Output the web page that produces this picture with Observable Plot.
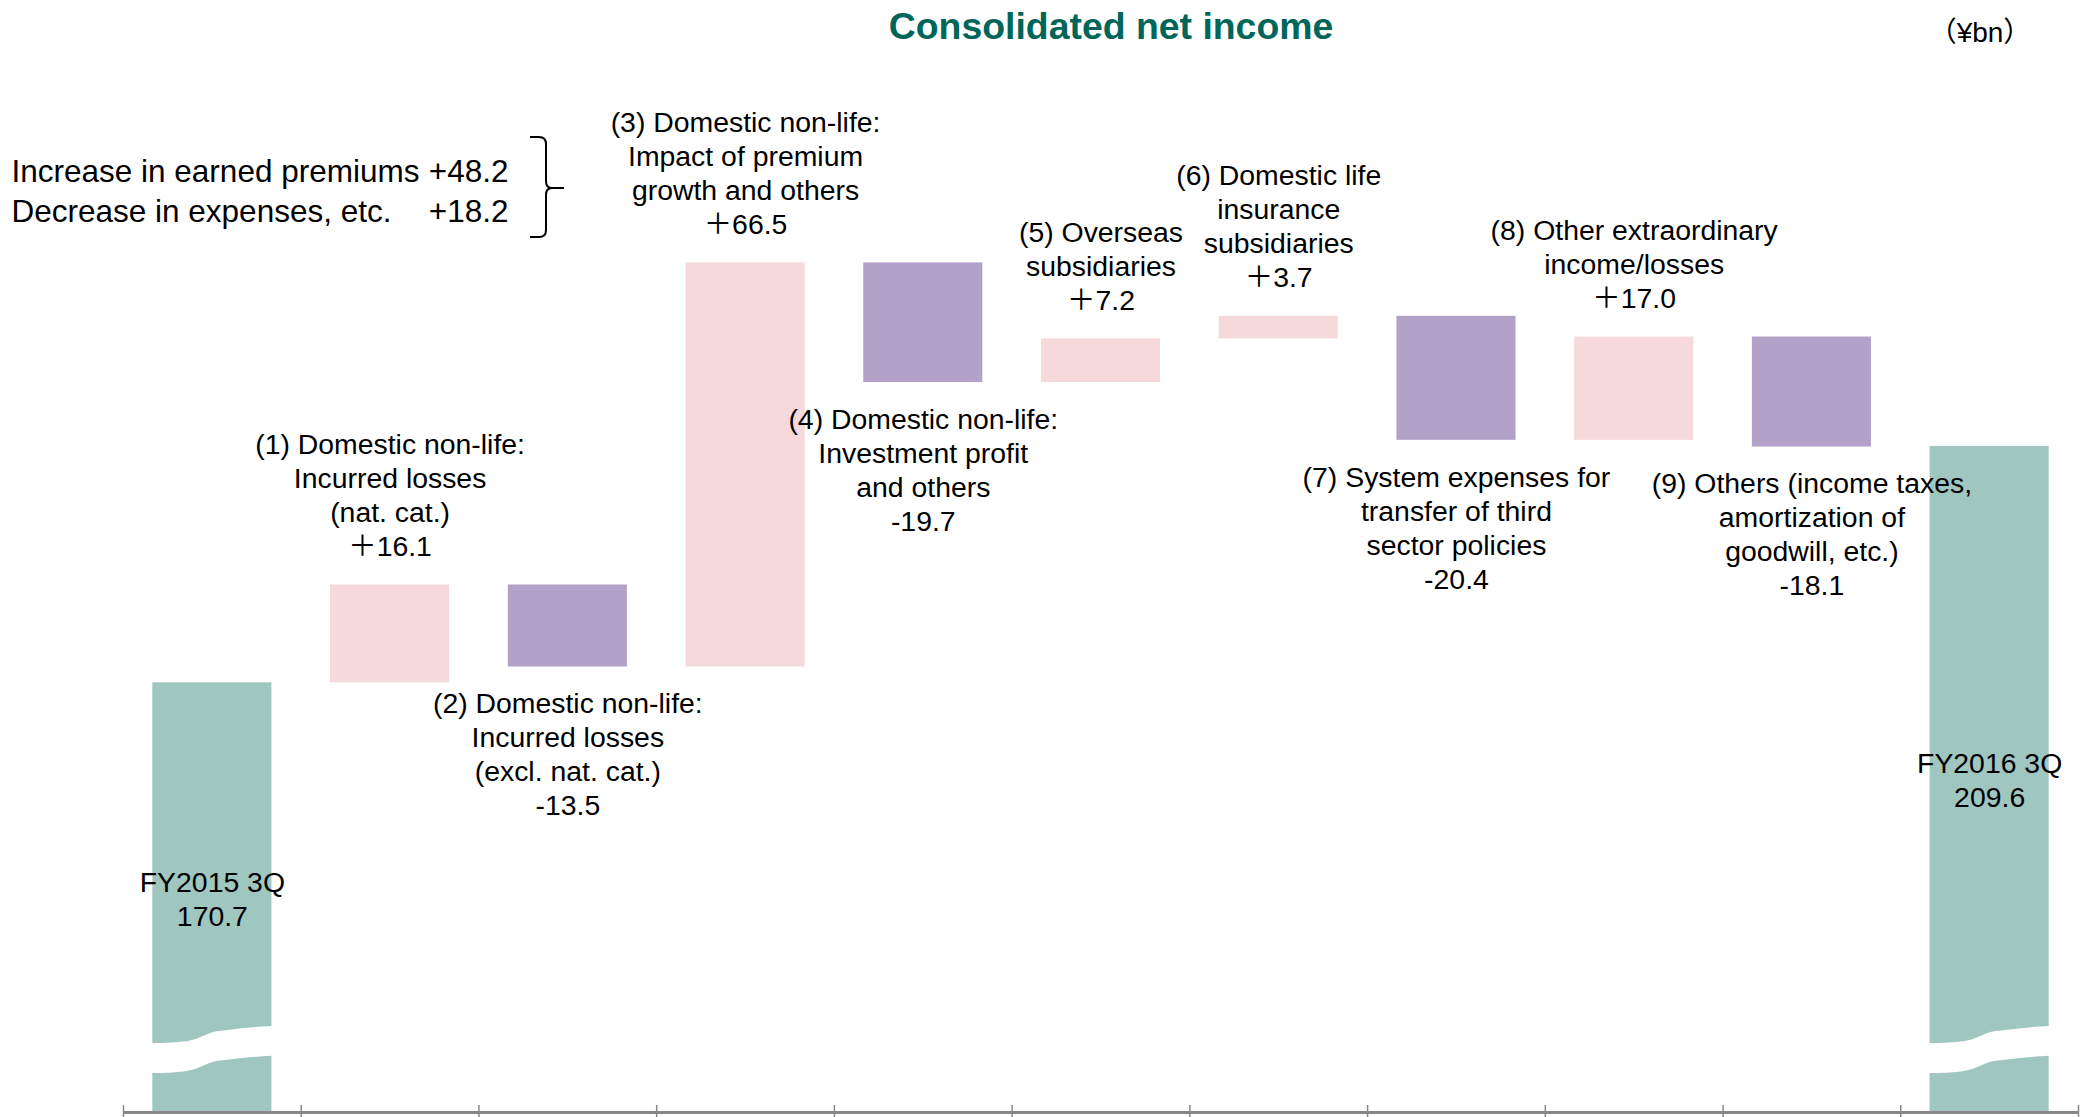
<!DOCTYPE html>
<html>
<head>
<meta charset="utf-8">
<script src="https://cdn.jsdelivr.net/npm/d3@7"></script>
<script src="https://cdn.jsdelivr.net/npm/@observablehq/plot@0.6"></script>
<style>
  html, body { margin: 0; padding: 0; background: #fff; }
  #page { position: relative; width: 2087px; height: 1117px; overflow: hidden;
          font-family: "Liberation Sans", Arial, "Noto Sans CJK JP", sans-serif; }
  #head { position: relative; height: 60px; }
  #title { position: absolute; top: 8px; left: 1111px; transform: translateX(-50%);
           font-size: 37.4px; font-weight: bold; color: #00665A; line-height: 1; white-space: nowrap; }
  #unit { position: absolute; top: 19px; left: 1980px; transform: translateX(-50%);
          font-size: 28px; line-height: 1; white-space: nowrap; color: #000; }
  #chart svg { display: block; }
</style>
</head>
<body>
<div id="page">
  <div id="head">
    <div id="title">Consolidated net income</div>
    <div id="unit">（¥bn）</div>
  </div>
  <div id="chart"></div>
</div>
<script>
// ---- data ----
const startLabel = "FY2015 3Q";
const startValue = 170.7;
const endLabel = "FY2016 3Q";
const endValue = 209.6;
const itemNames = [
  "(1) Domestic non-life:\nIncurred losses\n(nat. cat.)",
  "(2) Domestic non-life:\nIncurred losses\n(excl. nat. cat.)",
  "(3) Domestic non-life:\nImpact of premium\ngrowth and others",
  "(4) Domestic non-life:\nInvestment profit\nand others",
  "(5) Overseas\nsubsidiaries",
  "(6) Domestic life\ninsurance\nsubsidiaries",
  "(7) System expenses for\ntransfer of third\nsector policies",
  "(8) Other extraordinary\nincome/losses",
  "(9) Others (income taxes,\namortization of\ngoodwill, etc.)"
];
const itemValues = [16.1, -13.5, 66.5, -19.7, 7.2, 3.7, -20.4, 17.0, -18.1];
const breakdownLabels = ["Increase in earned premiums", "Decrease in expenses, etc."];
const breakdownValues = [48.2, 18.2];
const axisBase = 100;   // value at the (broken) baseline
const axisTop = 273.1;  // value at the top of the frame

// ---- derived waterfall rows ----
const nCols = itemValues.length + 2;
const pad = 0.165;
const fmtDelta = v => v >= 0 ? "＋" + v.toFixed(1) : "-" + Math.abs(v).toFixed(1);
const rows = [];
rows.push({i: 0, kind: "total", y1: axisBase, y2: startValue, text: `${startLabel}\n${startValue.toFixed(1)}`});
let run = startValue;
itemValues.forEach((v, k) => {
  const from = run;
  run = Math.round((run + v) * 10) / 10;
  rows.push({i: k + 1, kind: v >= 0 ? "up" : "down", y1: Math.min(from, run), y2: Math.max(from, run),
             text: `${itemNames[k]}\n${fmtDelta(v)}`});
});
rows.push({i: nCols - 1, kind: "total", y1: axisBase, y2: endValue, text: `${endLabel}\n${endValue.toFixed(1)}`});
const totals = rows.filter(d => d.kind === "total");
const ups = rows.filter(d => d.kind === "up");
const downs = rows.filter(d => d.kind === "down");

// break (wavy white band) across the total bars: shape = [fraction across bar, rise]
const breakAt = 106.4, breakGap = 4.9;
const breakShape = [[-0.08, -0.05], [0, 0], [0.26, 0.28], [0.37, 0.77], [0.51, 1.86], [0.63, 2.19], [1, 2.85], [1.08, 2.9]];
const breakData = totals.flatMap(t => breakShape.map(([f, r]) => ({
  z: t.i, x: t.i + pad + f * (1 - 2 * pad), y1: breakAt + r, y2: breakAt + r + breakGap
})));

const font = "Liberation Sans, Arial, Noto Sans CJK JP, sans-serif";
const labelSize = 28.4;

function brace(index, scales, values, dims) {
  const g = d3.create("svg:g").attr("fill", "none").attr("stroke", "#000").attr("stroke-width", 2);
  g.append("path").attr("d", "M530,77H539Q546,77 546,84V121Q546,128 552,128H564M552,128Q546,128 546,135V170Q546,177 539,177H530");
  return g.node();
}

const chart = Plot.plot({
  width: 2087,
  height: 1057,
  marginTop: 0,
  marginBottom: 5,
  marginLeft: 123,
  marginRight: 9,
  x: {domain: [0, nCols], axis: null},
  y: {domain: [axisBase, axisTop], axis: null},
  color: {domain: ["total", "up", "down"], range: ["#A0C6C0", "#F6D9DB", "#B2A2C7"]},
  marks: [
    Plot.rect(totals, {x1: d => d.i + pad, x2: d => d.i + 1 - pad, y1: "y1", y2: "y2", fill: "kind", ariaLabel: "totals"}),
    Plot.rect(rows.filter(d => d.kind !== "total"), {x1: d => d.i + pad, x2: d => d.i + 1 - pad, y1: "y1", y2: "y2", fill: "kind"}),
    Plot.area(breakData, {x1: "x", y1: "y1", y2: "y2", z: "z", fill: "white", curve: "monotone-x"}),
    Plot.ruleY([axisBase], {x1: () => 0, x2: () => nCols, stroke: "#888", strokeWidth: 3}),
    Plot.ruleX(d3.range(nCols + 1), {x: d => d, y1: () => axisBase, y2: () => axisBase, insetTop: -7, insetBottom: -5, stroke: "#888", strokeWidth: 1.5}),
    Plot.text(ups, {x: d => d.i + 0.5, y: "y2", text: "text", lineAnchor: "bottom", dy: -29,
                    fontSize: labelSize, fontFamily: font, lineHeight: 1.2, fill: "#000"}),
    Plot.text(downs, {x: d => d.i + 0.5, y: "y1", text: "text", lineAnchor: "top", dy: 22,
                      fontSize: labelSize, fontFamily: font, lineHeight: 1.2, fill: "#000"}),
    Plot.text(totals, {x: d => d.i + 0.5, y: d => (d.y1 + d.y2) / 2, text: "text", lineAnchor: "middle",
                       fontSize: labelSize, fontFamily: font, lineHeight: 1.2, fill: "#000"}),
    Plot.text([breakdownLabels.join("\n")], {text: d => d, frameAnchor: "top-left", textAnchor: "start", lineAnchor: "top",
                       dx: -112, dy: 93, fontSize: 31.5, fontFamily: font, lineHeight: 1.27, fill: "#000"}),
    Plot.text([breakdownValues.map(v => "+" + v.toFixed(1)).join("\n")], {text: d => d, frameAnchor: "top-left", textAnchor: "end", lineAnchor: "top",
                       dx: 385, dy: 93, fontSize: 31.5, fontFamily: font, lineHeight: 1.27, fill: "#000"}),
    brace
  ]
});
const tg = chart.querySelector('g[aria-label="totals"]');
if (tg) tg.style.filter = "drop-shadow(1px 1px 2px rgba(0,0,0,0.28))";
document.getElementById("chart").appendChild(chart);
</script>
</body>
</html>
